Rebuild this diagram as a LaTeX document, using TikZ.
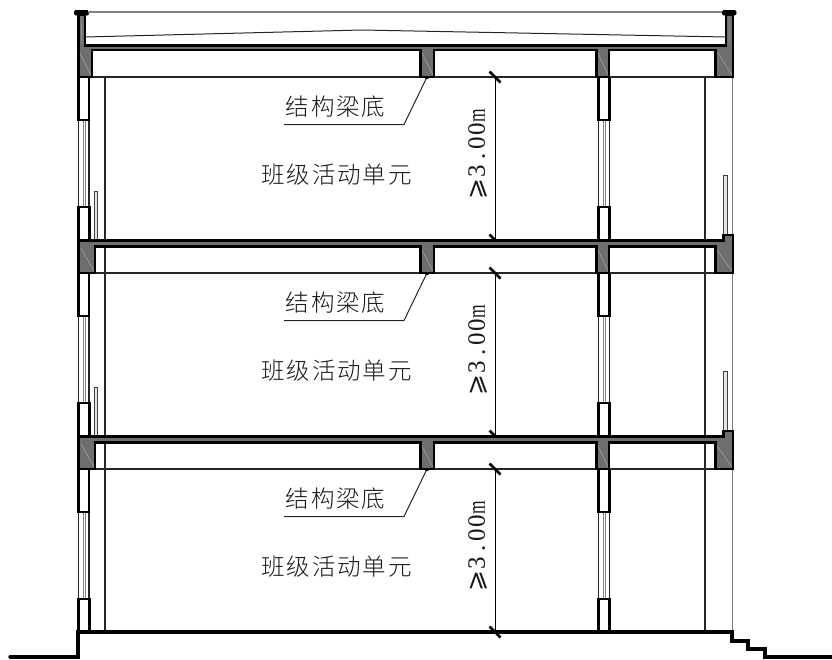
\documentclass[tikz,border=0pt]{standalone}
\usepackage{fontspec}
\newfontfamily\cjk[LetterSpace=8,UprightFont={* Light}]{Noto Sans CJK SC}
\newfontfamily\dimf{Liberation Serif}
\newfontfamily\dimm[FakeStretch=0.7]{Liberation Serif}
\newfontfamily\geqf{DejaVu Sans}
\definecolor{concrete}{HTML}{6E6E6E}
\definecolor{concretelight}{HTML}{A5A5A5}
\tikzset{
  heavy/.style={line width=2.8pt,line join=miter,black},
  struct/.style={heavy,fill=concrete},
  hatchline/.style={line width=.5pt,concretelight},
  thinl/.style={line width=1.1pt,black!85},
  gline/.style={line width=1.1pt,black!50},
  pier/.style={line width=2.6pt,black,fill=white},
  parapetcap/.style={fill=black,draw=black,line width=.6pt,rounded corners=1pt},
  slashtick/.style={line width=2.8pt,black},
  dimline/.style={line width=1pt,black},
  leader/.style={line width=1pt,black!85},
  rail/.style={line width=1pt,black!75,fill=black!10},
  groundl/.style={line width=3.4pt,black,line cap=round,line join=miter},
  cjklabel/.style={inner sep=0pt,font=\cjk\fontsize{23.5}{25}\selectfont,text=black!90},
  dimlabel/.style={inner sep=0pt,rotate=90,anchor=west,font=\dimf\fontsize{25}{27}\selectfont,text=black!90},
}
\begin{document}
\begin{tikzpicture}[x=1pt,y=-1pt]
\useasboundingbox (0,0) rectangle (832,659);
\draw[thinl] (105,77) -- (105,632);
\draw[thinl] (705,77) -- (705,632);
\draw[gline] (732.5,77) -- (732.5,632);
\foreach \dy/\n in {0/a,196/b,392/c}{
  \begin{scope}[yshift=-\dy pt]
    \draw[thinl] (78.5,120) -- (78.5,207) (89,120) -- (89,207);
    \draw[gline] (83.5,120) -- (83.5,207) (85.5,120) -- (85.5,207);
    \draw[thinl] (598.5,120) -- (598.5,207) (609.5,120) -- (609.5,207);
    \draw[gline] (603.5,120) -- (603.5,207) (605.5,120) -- (605.5,207);
    \draw[pier] (78.5,77) rectangle (89,120);
    \draw[pier] (78.5,207) rectangle (89.5,240);
    \draw[pier] (598.5,77) rectangle (609.5,120);
    \draw[pier] (598.5,207) rectangle (609.5,240);
    \draw[thinl] (90,77) -- (715,77);
    \coordinate (dimtop\n) at (495,77);
    \coordinate (dimbot\n) at (495,240);
    \draw[dimline] (dimtop\n) -- (dimbot\n);
    \draw[slashtick] ([shift={(-5.5,-5.5)}]dimtop\n) -- ([shift={(5.5,5.5)}]dimtop\n);
    \draw[slashtick] ([shift={(-5.5,-5.5)}]dimbot\n) -- ([shift={(5.5,5.5)}]dimbot\n);
    \node[cjklabel] (beam\n) at (335.5,107) {结构梁底};
    \node[cjklabel] (room\n) at (336.5,174.5) {班级活动单元};
    \node[dimlabel] (dim\n) at (478,200) {{\geqf ⩾}\hspace{1.5pt}3\hspace{5pt}.\hspace{4.25pt}0\hspace{1pt}0\hspace{1pt}{\dimm m}};
    \coordinate (ldr\n) at (427,77);
    \coordinate (ldrk\n) at (404,124.5);
    \coordinate (ldrs\n) at (284,124.5);
    \draw[leader] (ldrs\n) -- (ldrk\n) -- (ldr\n);
    \fill (ldr\n) circle (2.2pt);
  \end{scope}
}
\draw[groundl] (10,657) -- (78,657) -- (78,632) -- (732,632) -- (732,641) -- (748,641) -- (748,649) -- (765,649) -- (765,657) -- (832,657);
\foreach \dy in {0,196}{
  \draw[rail,yshift=-\dy pt] (94.5,240) -- (94.5,191.5) -- (97.5,191.5) -- (97.5,240);
  \draw[rail,yshift=-\dy pt] (723.5,235) -- (723.5,175.5) -- (727,175.5) -- (727,235);
}
\foreach \dy in {0,196}{
  \begin{scope}[yshift=-\dy pt]
    \draw[struct] (78.5,240.8) -- (723.5,240.8) -- (723.5,235) -- (733,235) -- (733,273) -- (715.5,273) -- (715.5,246.6) -- (609,246.6) -- (609,273) -- (596.5,273) -- (596.5,246.6) -- (434,246.6) -- (434,273) -- (420.5,273) -- (420.5,246.6) -- (95,246.6) -- (95,273) -- (78.5,273) -- cycle;
    \draw[hatchline] (81,248) -- (94,271) (422,250) -- (433,271) (598,250) -- (608,271) (717,250) -- (732,271);
  \end{scope}
}
\draw[struct] (78.5,15) -- (78.5,77) -- (92,77) -- (92,50) -- (420.5,50) -- (420.5,77) -- (434,77) -- (434,50) -- (596.5,50) -- (596.5,77) -- (609,77) -- (609,50) -- (715.5,50) -- (715.5,77) -- (733,77) -- (733,15) -- (726,15) -- (726,45.5) -- (85,45.5) -- (85,15) -- cycle;
\draw[hatchline] (80,53) -- (91,75) (422,53) -- (433,75) (598,53) -- (608,75) (718,53) -- (732,75) (81,17) -- (82,44) (729,17) -- (729,44);
\draw[parapetcap] (74.5,10.5) rectangle (88.5,15);
\draw[parapetcap] (722.5,10.5) rectangle (736,15);
\draw[gline] (88,12) -- (722,12);
\draw[line width=1pt,black!85] (85,37) -- (362,30) -- (726,37);
\end{tikzpicture}
\end{document}
